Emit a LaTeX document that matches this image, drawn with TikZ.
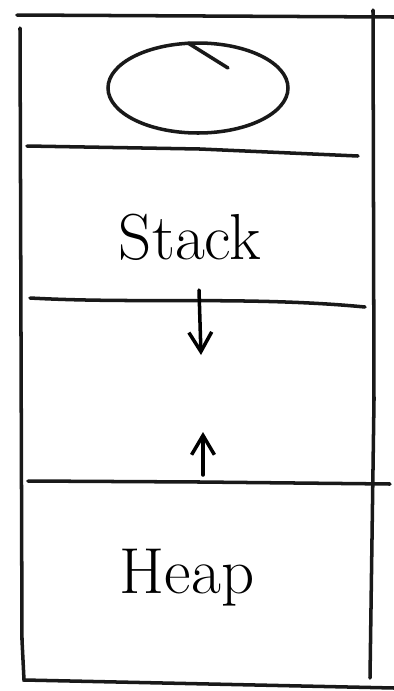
\documentclass[tikz,border=0pt]{standalone}
\usepackage{tikz}
\usetikzlibrary{positioning, arrows.meta, calc}

\begin{document}
\begin{tikzpicture}[
  x=0.02cm, y=-0.02cm,
  pen/.style={line width=2pt, line cap=round, color=black!90},
  growarrow/.style={line width=2pt, line cap=round, -{Straight Barb[length=11pt, width=13pt]}},
  region/.style={font=\fontsize{37}{40}\selectfont, inner sep=0pt},
]
  \useasboundingbox (0,0) rectangle (394,691);

  % outer frame
  \draw[pen] (17,15) -- (394,17);
  \draw[pen] (20,28) -- (22,640) -- (24,680) -- (394,688);
  \draw[pen] (373,10) -- (374,400) -- (370,678);

  % top segment
  \draw[pen] (198,88) ellipse [x radius=90, y radius=45];
  \draw[pen] (188,43) -- (228,68);
  \draw[pen] (27,146) -- (200,149) -- (358,156);

  % stack
  \node[region] (stack) at (190,237) {Stack};
  \draw[pen] (30,298) .. controls (140,304) and (250,296) .. (365,307);

  % free space
  \coordinate (stacktop) at (199,290);
  \coordinate (stackend) at (201,355);
  \draw[growarrow] (stacktop) -- (stackend);
  \coordinate (heaptop) at (203,475);
  \coordinate (heapend) at (203,432);
  \draw[growarrow] (heaptop) -- (heapend);

  % heap
  \draw[pen] (28,481) -- (200,482) -- (390,484);
  \node[region] (heap) at (187,578) {Heap};
\end{tikzpicture}
\end{document}
